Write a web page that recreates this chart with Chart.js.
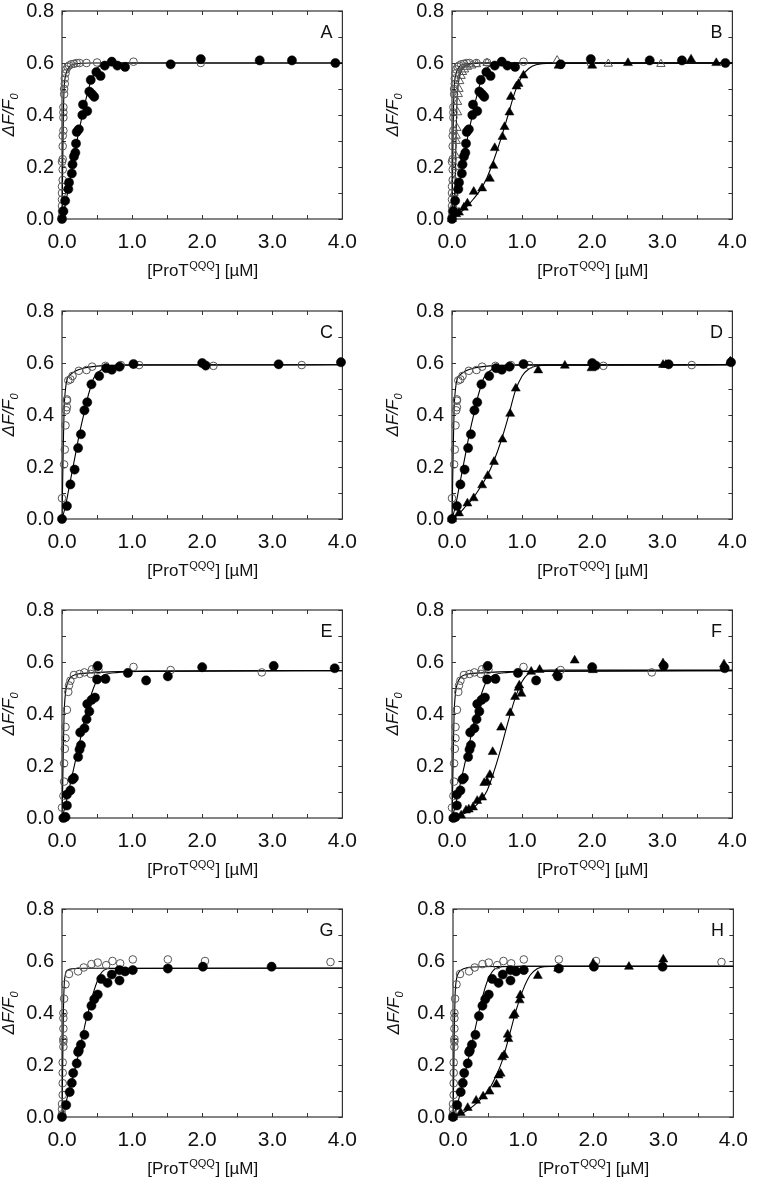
<!DOCTYPE html>
<html>
<head>
<meta charset="utf-8">
<script src="https://cdn.jsdelivr.net/npm/chart.js@4.4.0/dist/chart.umd.min.js"></script>
<style>
html, body { margin: 0; padding: 0; background: #fff; }
body { width: 760px; height: 1180px; position: relative; overflow: hidden; }
canvas { position: absolute; }
</style>
</head>
<body>
<script>
// Ejes
const xTickValues = [0, 1, 2, 3, 4];
const yTickValues = [0, 0.2, 0.4, 0.6, 0.8];
const xFrameTicks = [0, 0.5, 1, 1.5, 2, 2.5, 3, 3.5, 4];
const yFrameTicks = [0, 0.1, 0.2, 0.3, 0.4, 0.5, 0.6, 0.7, 0.8];

// Panel A (y B): círculos
const aOpen = [[0,0.01],[0,0.03],[0,0.05],[0,0.075],[0,0.10],[0,0.125],[0.01,0.15],[0.01,0.19],[0,0.22],[0.01,0.23],[0.01,0.28],[0.01,0.32],[0.02,0.34],[0.02,0.39],[0.02,0.41],[0.02,0.43],[0.03,0.48],[0.03,0.50],[0.04,0.52],[0.04,0.54],[0.05,0.56],[0.06,0.575],[0.08,0.585],[0.1,0.59],[0.13,0.595],[0.17,0.597],[0.21,0.6],[0.25,0.6],[0.35,0.6],[0.5,0.602],[0.71,0.605],[1.02,0.605],[1.98,0.6]];
const aFilled = [[0,0],[0.02,0.03],[0.045,0.07],[0.09,0.115],[0.1,0.14],[0.14,0.175],[0.15,0.21],[0.17,0.24],[0.19,0.255],[0.2,0.29],[0.21,0.335],[0.24,0.345],[0.29,0.40],[0.3,0.44],[0.36,0.415],[0.39,0.49],[0.43,0.48],[0.46,0.47],[0.41,0.535],[0.49,0.565],[0.55,0.55],[0.61,0.59],[0.71,0.605],[0.79,0.59],[0.9,0.585],[1.55,0.595],[1.98,0.615],[2.82,0.61],[3.28,0.61],[3.9,0.6]];
const aOpenFit = [[0,0],[0.01,0.2],[0.02,0.4],[0.03,0.5],[0.05,0.55],[0.08,0.575],[0.12,0.59],[0.2,0.597],[0.4,0.6],[4,0.6]];
const aFilledFit = [[0,0],[0.05,0.06],[0.1,0.13],[0.15,0.2],[0.2,0.28],[0.25,0.35],[0.3,0.41],[0.35,0.47],[0.4,0.52],[0.45,0.555],[0.5,0.58],[0.6,0.595],[0.7,0.6],[4,0.6]];

// Panel B: triángulos
const bOpenTri = [[0.01,0.02],[0.02,0.05],[0.03,0.1],[0.04,0.15],[0.05,0.2],[0.05,0.245],[0.06,0.3],[0.06,0.32],[0.07,0.35],[0.08,0.41],[0.08,0.45],[0.09,0.48],[0.1,0.5],[0.11,0.53],[0.13,0.55],[0.15,0.565],[0.18,0.575],[0.22,0.585],[0.28,0.59],[0.35,0.595],[0.5,0.6],[1.5,0.61],[2.23,0.597],[2.98,0.596]];
const bFilledTri = [[0,0],[0.06,0.019],[0.1,0.025],[0.17,0.044],[0.22,0.06],[0.31,0.105],[0.43,0.118],[0.54,0.155],[0.59,0.205],[0.61,0.273],[0.72,0.316],[0.75,0.354],[0.82,0.41],[0.84,0.47],[0.92,0.51],[0.95,0.52],[1.02,0.552],[1.52,0.59],[2.0,0.59],[2.51,0.6],[3.41,0.614],[3.77,0.6]];
const bOpenTriFit = [[0,0],[0.03,0.05],[0.05,0.2],[0.06,0.35],[0.07,0.45],[0.09,0.52],[0.12,0.56],[0.17,0.585],[0.25,0.595],[0.4,0.6],[4,0.6]];
const bFilledTriFit = [[0,0],[0.1,0.02],[0.2,0.045],[0.3,0.075],[0.4,0.11],[0.5,0.16],[0.6,0.23],[0.7,0.31],[0.8,0.4],[0.9,0.49],[1.0,0.55],[1.1,0.58],[1.2,0.593],[1.4,0.599],[4,0.6]];

// Panel C (y D)
const cOpen = [[0,0.08],[0.03,0.21],[0.04,0.267],[0.05,0.36],[0.06,0.418],[0.07,0.43],[0.07,0.455],[0.07,0.46],[0.09,0.533],[0.12,0.537],[0.15,0.55],[0.24,0.57],[0.35,0.573],[0.43,0.586],[0.62,0.589],[0.84,0.592],[1.1,0.592],[2.16,0.589],[3.42,0.592]];
const cFilled = [[0,0],[0.07,0.05],[0.12,0.133],[0.18,0.19],[0.23,0.273],[0.27,0.326],[0.32,0.418],[0.36,0.449],[0.42,0.518],[0.53,0.55],[0.63,0.58],[0.71,0.574],[0.82,0.586],[1.02,0.596],[2.0,0.6],[2.05,0.59],[3.09,0.595],[3.98,0.603]];
const cOpenFit = [[0,0],[0.01,0.15],[0.02,0.3],[0.03,0.42],[0.05,0.5],[0.07,0.535],[0.1,0.55],[0.2,0.57],[0.3,0.58],[0.5,0.588],[1,0.592],[4,0.593]];
const cFilledFit = [[0,0],[0.05,0.05],[0.1,0.12],[0.15,0.19],[0.2,0.26],[0.25,0.33],[0.3,0.39],[0.35,0.45],[0.4,0.5],[0.45,0.54],[0.5,0.56],[0.6,0.58],[0.75,0.59],[1.0,0.593],[4,0.593]];
const dFilledTri = [[0,0],[0.1,0.022],[0.22,0.06],[0.31,0.08],[0.43,0.13],[0.51,0.166],[0.6,0.22],[0.72,0.306],[0.83,0.405],[0.91,0.502],[1.23,0.572],[1.61,0.59],[1.99,0.58],[3.01,0.593],[3.05,0.593],[3.97,0.606]];
const dFilledTriFit = [[0,0],[0.1,0.02],[0.2,0.05],[0.3,0.08],[0.4,0.12],[0.5,0.165],[0.6,0.225],[0.7,0.3],[0.8,0.39],[0.9,0.49],[1.0,0.55],[1.1,0.578],[1.2,0.588],[1.4,0.592],[4,0.593]];

// Panel E (y F)
const eOpen = [[0,0.04],[0.02,0.085],[0.03,0.14],[0.03,0.21],[0.04,0.266],[0.05,0.307],[0.05,0.35],[0.07,0.416],[0.09,0.485],[0.1,0.51],[0.12,0.528],[0.17,0.55],[0.25,0.554],[0.32,0.56],[0.43,0.572],[0.41,0.554],[0.49,0.579],[0.52,0.57],[1.02,0.581],[1.55,0.569],[2.85,0.56]];
const eFilled = [[0.02,0],[0.05,0.004],[0.07,0.048],[0.07,0.09],[0.12,0.106],[0.15,0.148],[0.17,0.154],[0.23,0.235],[0.25,0.263],[0.27,0.28],[0.26,0.329],[0.32,0.345],[0.35,0.38],[0.39,0.41],[0.36,0.438],[0.42,0.454],[0.47,0.463],[0.5,0.533],[0.51,0.585],[0.62,0.535],[0.94,0.558],[1.2,0.529],[1.51,0.545],[2.0,0.58],[3.02,0.585],[3.89,0.576]];
const eOpenFit = [[0,0],[0.01,0.12],[0.02,0.28],[0.03,0.4],[0.05,0.48],[0.08,0.52],[0.12,0.54],[0.2,0.552],[0.4,0.558],[1,0.564],[4,0.567]];
const eFilledFit = [[0,0],[0.05,0.05],[0.1,0.11],[0.15,0.17],[0.2,0.23],[0.25,0.29],[0.3,0.35],[0.35,0.41],[0.4,0.46],[0.45,0.5],[0.5,0.53],[0.6,0.55],[0.8,0.56],[1.2,0.565],[4,0.567]];
const fFilledTri = [[0.02,0],[0.13,0.01],[0.2,0.029],[0.24,0.033],[0.3,0.041],[0.36,0.066],[0.43,0.079],[0.46,0.135],[0.5,0.139],[0.54,0.166],[0.58,0.254],[0.7,0.348],[0.83,0.404],[0.9,0.466],[0.95,0.501],[0.96,0.51],[0.99,0.478],[1.13,0.563],[1.25,0.57],[1.49,0.557],[1.75,0.606],[2.01,0.569],[3.01,0.595],[3.88,0.591]];
const fFilledTriFit = [[0,0],[0.1,0.008],[0.2,0.02],[0.3,0.038],[0.4,0.065],[0.5,0.105],[0.6,0.18],[0.7,0.27],[0.8,0.37],[0.9,0.46],[1.0,0.525],[1.1,0.557],[1.2,0.567],[1.4,0.569],[4,0.569]];

// Panel G (y H)
const gOpen = [[0,0.01],[0,0.03],[0,0.05],[0.01,0.085],[0.01,0.13],[0.01,0.17],[0.01,0.21],[0.02,0.27],[0.02,0.29],[0.02,0.3],[0.02,0.34],[0.02,0.38],[0.02,0.4],[0.03,0.455],[0.05,0.51],[0.1,0.55],[0.23,0.56],[0.31,0.575],[0.42,0.588],[0.51,0.594],[0.63,0.584],[0.72,0.6],[0.83,0.591],[1.01,0.606],[1.51,0.606],[2.04,0.6],[3.83,0.596]];
const gFilled = [[0,0],[0.06,0.046],[0.11,0.096],[0.14,0.131],[0.16,0.169],[0.21,0.206],[0.23,0.25],[0.24,0.256],[0.27,0.278],[0.32,0.316],[0.37,0.388],[0.42,0.428],[0.46,0.453],[0.51,0.471],[0.56,0.531],[0.65,0.516],[0.71,0.548],[0.82,0.565],[0.82,0.525],[0.9,0.56],[1.01,0.565],[1.51,0.571],[2.01,0.578],[2.99,0.578]];
const gOpenFit = [[0,0],[0.01,0.2],[0.02,0.4],[0.03,0.5],[0.05,0.55],[0.08,0.565],[0.15,0.57],[0.3,0.572],[4,0.573]];
const gFilledFit = [[0,0],[0.05,0.05],[0.1,0.1],[0.15,0.15],[0.2,0.2],[0.25,0.26],[0.3,0.32],[0.35,0.38],[0.4,0.43],[0.45,0.48],[0.5,0.52],[0.55,0.55],[0.6,0.565],[0.7,0.571],[4,0.572]];
const hFilledTri = [[0,0],[0.11,0.016],[0.21,0.035],[0.33,0.063],[0.43,0.079],[0.52,0.098],[0.62,0.125],[0.65,0.16],[0.68,0.167],[0.7,0.23],[0.73,0.238],[0.78,0.317],[0.79,0.3],[0.86,0.39],[0.88,0.396],[0.95,0.449],[0.96,0.468],[1.21,0.543],[1.5,0.571],[2.0,0.59],[2.51,0.578],[3.0,0.606]];
const hOpenFit = [[0,0],[0.01,0.15],[0.02,0.35],[0.03,0.47],[0.05,0.53],[0.08,0.555],[0.15,0.57],[0.3,0.577],[1,0.58],[4,0.58]];
const hFilledFit = [[0,0],[0.05,0.04],[0.1,0.085],[0.15,0.14],[0.2,0.2],[0.25,0.26],[0.3,0.32],[0.35,0.38],[0.4,0.44],[0.45,0.49],[0.5,0.53],[0.55,0.555],[0.6,0.57],[0.7,0.578],[1,0.58],[4,0.58]];
const hFilledTriFit = [[0,0],[0.1,0.01],[0.2,0.025],[0.3,0.045],[0.4,0.07],[0.5,0.1],[0.6,0.15],[0.7,0.215],[0.8,0.31],[0.9,0.41],[1.0,0.49],[1.1,0.545],[1.2,0.57],[1.3,0.578],[1.5,0.58],[4,0.58]];

const FONT = '"Liberation Sans", Arial, Helvetica, sans-serif';

function toXY(arr) {
    return arr.map(p => ({ x: p[0], y: p[1] }));
}

// Estilos de las series
function openCircle(d) {
    return { data: toXY(d), showLine: false, clip: false, pointStyle: 'circle', pointRadius: 3.8,
        pointBackgroundColor: 'rgba(255,255,255,0)', pointBorderColor: '#555', pointBorderWidth: 1 };
}
function filledCircle(d) {
    return { data: toXY(d), showLine: false, clip: false, pointStyle: 'circle', pointRadius: 4.6,
        pointBackgroundColor: '#000', pointBorderColor: '#000', pointBorderWidth: 0.5 };
}
function openTri(d) {
    return { data: toXY(d), showLine: false, clip: false, pointStyle: 'triangle', pointRadius: 4.8,
        pointBackgroundColor: 'rgba(255,255,255,0)', pointBorderColor: '#555', pointBorderWidth: 1 };
}
function filledTri(d) {
    return { data: toXY(d), showLine: false, clip: false, pointStyle: 'triangle', pointRadius: 5.2,
        pointBackgroundColor: '#000', pointBorderColor: '#000', pointBorderWidth: 0.5 };
}
function fit(d) {
    return { data: toXY(d), showLine: true, pointRadius: 0, borderColor: '#000', borderWidth: 1.1,
        cubicInterpolationMode: 'monotone', fill: false };
}

const panels = [
    { letter: 'A', left: 62, top: 5, axisW: 62, yTitleOff: 48,
      sets: [filledCircle(aFilled), openCircle(aOpen), fit(aOpenFit), fit(aFilledFit)] },
    { letter: 'B', left: 452, top: 5, axisW: 72, yTitleOff: 54,
      sets: [filledTri(bFilledTri), filledCircle(aFilled), openTri(bOpenTri), openCircle(aOpen),
             fit(aOpenFit), fit(bOpenTriFit), fit(aFilledFit), fit(bFilledTriFit)] },
    { letter: 'C', left: 62, top: 305, axisW: 62, yTitleOff: 48,
      sets: [filledCircle(cFilled), openCircle(cOpen), fit(cOpenFit), fit(cFilledFit)] },
    { letter: 'D', left: 452, top: 305, axisW: 72, yTitleOff: 54,
      sets: [filledTri(dFilledTri), filledCircle(cFilled), openCircle(cOpen),
             fit(cOpenFit), fit(cFilledFit), fit(dFilledTriFit)] },
    { letter: 'E', left: 62, top: 604, axisW: 62, yTitleOff: 48,
      sets: [filledCircle(eFilled), openCircle(eOpen), fit(eOpenFit), fit(eFilledFit)] },
    { letter: 'F', left: 452, top: 604, axisW: 72, yTitleOff: 54,
      sets: [filledTri(fFilledTri), filledCircle(eFilled), openCircle(eOpen),
             fit(eOpenFit), fit(eFilledFit), fit(fFilledTriFit)] },
    { letter: 'G', left: 62, top: 903, axisW: 62, yTitleOff: 48,
      sets: [filledCircle(gFilled), openCircle(gOpen), fit(gOpenFit), fit(gFilledFit)] },
    { letter: 'H', left: 453, top: 903, axisW: 72, yTitleOff: 54,
      sets: [filledTri(hFilledTri), filledCircle(gFilled), openCircle(gOpen),
             fit(hOpenFit), fit(hFilledFit), fit(hFilledTriFit)] }
];

// Marco con marcas hacia dentro, títulos de ejes y letra del panel
const panelFrame = {
    id: 'panelFrame',
    beforeDatasetsDraw(chart) {
        const { ctx, chartArea: a, scales: { x, y } } = chart;
        ctx.save();
        ctx.strokeStyle = '#333';
        ctx.lineWidth = 1.2;
        ctx.strokeRect(a.left, a.top, a.right - a.left, a.bottom - a.top);
        ctx.beginPath();
        xFrameTicks.forEach(v => {
            const px = Math.round(x.getPixelForValue(v)) + 0.5;
            ctx.moveTo(px, a.bottom); ctx.lineTo(px, a.bottom - 4);
            ctx.moveTo(px, a.top); ctx.lineTo(px, a.top + 4);
        });
        yFrameTicks.forEach(v => {
            const py = Math.round(y.getPixelForValue(v)) + 0.5;
            ctx.moveTo(a.left, py); ctx.lineTo(a.left + 4, py);
            ctx.moveTo(a.right, py); ctx.lineTo(a.right - 4, py);
        });
        ctx.lineWidth = 1;
        ctx.stroke();
        ctx.restore();
    },
    afterDraw(chart, args, opts) {
        const { ctx, chartArea: a } = chart;
        ctx.save();
        ctx.fillStyle = '#111';

        // título eje x: [ProT^QQQ] [µM]
        const p1 = '[ProT', sup = 'QQQ', p2 = '] [µM]';
        ctx.font = '17px ' + FONT;
        const w1 = ctx.measureText(p1).width, w3 = ctx.measureText(p2).width;
        ctx.font = '11px ' + FONT;
        const w2 = ctx.measureText(sup).width;
        const tx = (a.left + a.right) / 2 - (w1 + w2 + w3) / 2;
        const ty = a.bottom + 57;
        ctx.textAlign = 'left';
        ctx.textBaseline = 'alphabetic';
        ctx.font = '17px ' + FONT;
        ctx.fillText(p1, tx, ty);
        ctx.font = '11px ' + FONT;
        ctx.fillText(sup, tx + w1 + 0.5, ty - 7);
        ctx.font = '17px ' + FONT;
        ctx.fillText(p2, tx + w1 + w2 + 1, ty);

        // título eje y: ΔF/F0
        ctx.translate(a.left - opts.yTitleOff, (a.top + a.bottom) / 2);
        ctx.rotate(-Math.PI / 2);
        ctx.font = 'italic 17px ' + FONT;
        const m = ctx.measureText('ΔF/F').width;
        ctx.font = 'italic 11px ' + FONT;
        const s = ctx.measureText('0').width;
        const sx = -(m + s) / 2;
        ctx.font = 'italic 17px ' + FONT;
        ctx.fillText('ΔF/F', sx, 0);
        ctx.font = 'italic 11px ' + FONT;
        ctx.fillText('0', sx + m, 4);
        ctx.setTransform(1, 0, 0, 1, 0, 0);

        // letra del panel
        ctx.font = '18px ' + FONT;
        ctx.textAlign = 'center';
        ctx.textBaseline = 'middle';
        ctx.fillText(opts.letter, a.right - 16, a.top + 22);
        ctx.restore();
    }
};

const PLOT_W = 292, RIGHT_PAD = 14, CANVAS_H = 298, PAD_TOP = 14;

panels.forEach(p => {
    const w = p.axisW + PLOT_W + RIGHT_PAD;
    const canvas = document.createElement('canvas');
    canvas.width = w;
    canvas.height = CANVAS_H;
    canvas.style.left = (p.left - p.axisW) + 'px';
    canvas.style.top = (p.top - PAD_TOP) + 'px';
    canvas.style.width = w + 'px';
    canvas.style.height = CANVAS_H + 'px';
    document.body.appendChild(canvas);

    new Chart(canvas.getContext('2d'), {
        type: 'scatter',
        data: { datasets: p.sets },
        plugins: [panelFrame],
        options: {
            responsive: false,
            animation: false,
            devicePixelRatio: 1,
            events: [],
            layout: { padding: { top: PAD_TOP, right: RIGHT_PAD, left: 0, bottom: 0 } },
            plugins: {
                legend: { display: false },
                tooltip: { enabled: false },
                panelFrame: { letter: p.letter, yTitleOff: p.yTitleOff }
            },
            scales: {
                x: {
                    type: 'linear', min: 0, max: 4,
                    grid: { display: false, drawTicks: false },
                    border: { display: false },
                    afterBuildTicks: s => { s.ticks = xTickValues.map(v => ({ value: v })); },
                    afterFit: s => { s.height = 70; },
                    ticks: {
                        padding: 11, color: '#111', maxRotation: 0, autoSkip: false,
                        font: { family: FONT, size: 21 },
                        callback: v => Number(v).toFixed(1)
                    }
                },
                y: {
                    type: 'linear', min: 0, max: 0.8,
                    grid: { display: false, drawTicks: false },
                    border: { display: false },
                    afterBuildTicks: s => { s.ticks = yTickValues.map(v => ({ value: v })); },
                    afterFit: s => { s.width = p.axisW; },
                    ticks: {
                        padding: 8, color: '#111', autoSkip: false,
                        font: { family: FONT, size: 20 },
                        callback: v => Number(v).toFixed(1)
                    }
                }
            }
        }
    });
});
</script>
</body>
</html>
